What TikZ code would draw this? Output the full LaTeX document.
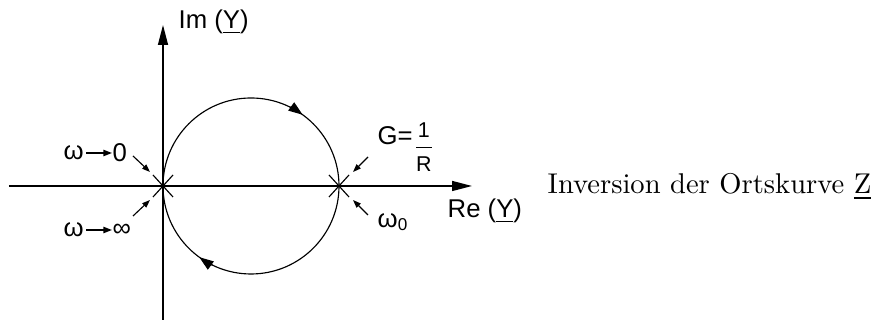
\documentclass[tikz,border=0pt]{standalone}
\usepackage{amsmath}
\usepackage{fontspec}
\newfontfamily\lblfont{Liberation Sans}
\usetikzlibrary{arrows.meta,positioning}
\tikzset{
  every picture/.style={line width=0.5pt},
  axis/.style={-{Triangle[length=7pt,width=3.5pt]}, line width=0.5pt},
  locus/.style={line width=0.4pt},
  sense/.style={-{Triangle[length=5pt,width=3.5pt]}, line width=0.4pt},
  cross/.style={line width=0.4pt},
  pointer/.style={-{Triangle[length=2.8pt,width=2pt]}, line width=0.4pt},
  limit/.style={-{Triangle[length=3pt,width=2.2pt]}, line width=0.5pt},
  lbl/.style={font=\lblfont\fontsize{9}{11}\selectfont, inner sep=0pt, anchor=west},
}

\begin{document}
\begin{tikzpicture}[x=0.35pt, y=0.35pt]
  \useasboundingbox (-163,-134) rectangle (719,186);
  % axes of the Y plane, origin at the first cross
  \coordinate (O) at (0,0);
  \coordinate (M) at (88,0);
  \coordinate (G) at (176,0);
  \draw[axis] (-154,0) -- (309,0);
  \draw[axis] (0,-134) -- (0,161);
  \node[lbl] (im) at (15,164) {Im (\underline{Y})};
  \node[lbl] (re) at (284,-25) {Re (\underline{Y})};
  % locus circle, traversed clockwise
  \draw[locus] (M) circle[radius=88];
  \draw[sense] (M) ++(64:88) arc[start angle=64, end angle=54, radius=88];
  \draw[sense] (M) ++(244:88) arc[start angle=244, end angle=234, radius=88];
  % the two crossings
  \draw[cross] (O) ++(-10,-11) -- ++(20,22) (O) ++(-10,11) -- ++(20,-22);
  \draw[cross] (G) ++(-10,-11) -- ++(20,22) (G) ++(-10,11) -- ++(20,-22);
  % limits omega -> 0 and omega -> infinity
  \node[lbl] (wlo) at (-100,33) {ω};
  \node[lbl] (zero) at (-51,33) {0};
  \draw[limit] (wlo.east) ++(1.5,0) -- (wlo.east -| zero.west);
  \node[lbl] (whi) at (-100,-44) {ω};
  \node[lbl] (inf) at (-51,-44) {∞};
  \draw[limit] (whi.east) ++(1.5,0) -- (whi.east -| inf.west);
  \node[lbl] (cond) at (214,39) {G=\raisebox{-3.2pt}{$\dfrac{\text{\fontsize{7.5}{8}\selectfont 1}}{\text{\fontsize{7.5}{8}\selectfont R}}$}};
  \node[lbl] (wres) at (214,-36) {ω\textsubscript{0}};
  \draw[pointer] (O) ++(-30,30) -- ++(17,-16);
  \draw[pointer] (O) ++(-30,-30) -- ++(17,16);
  \draw[pointer] (G) ++(29,29) -- ++(-15,-15);
  \draw[pointer] (G) ++(29,-29) -- ++(-15,15);
  \node[anchor=base west, inner sep=0pt] (title) at (384,-8) {Inversion der Ortskurve \underline{Z}};
\end{tikzpicture}
\end{document}
